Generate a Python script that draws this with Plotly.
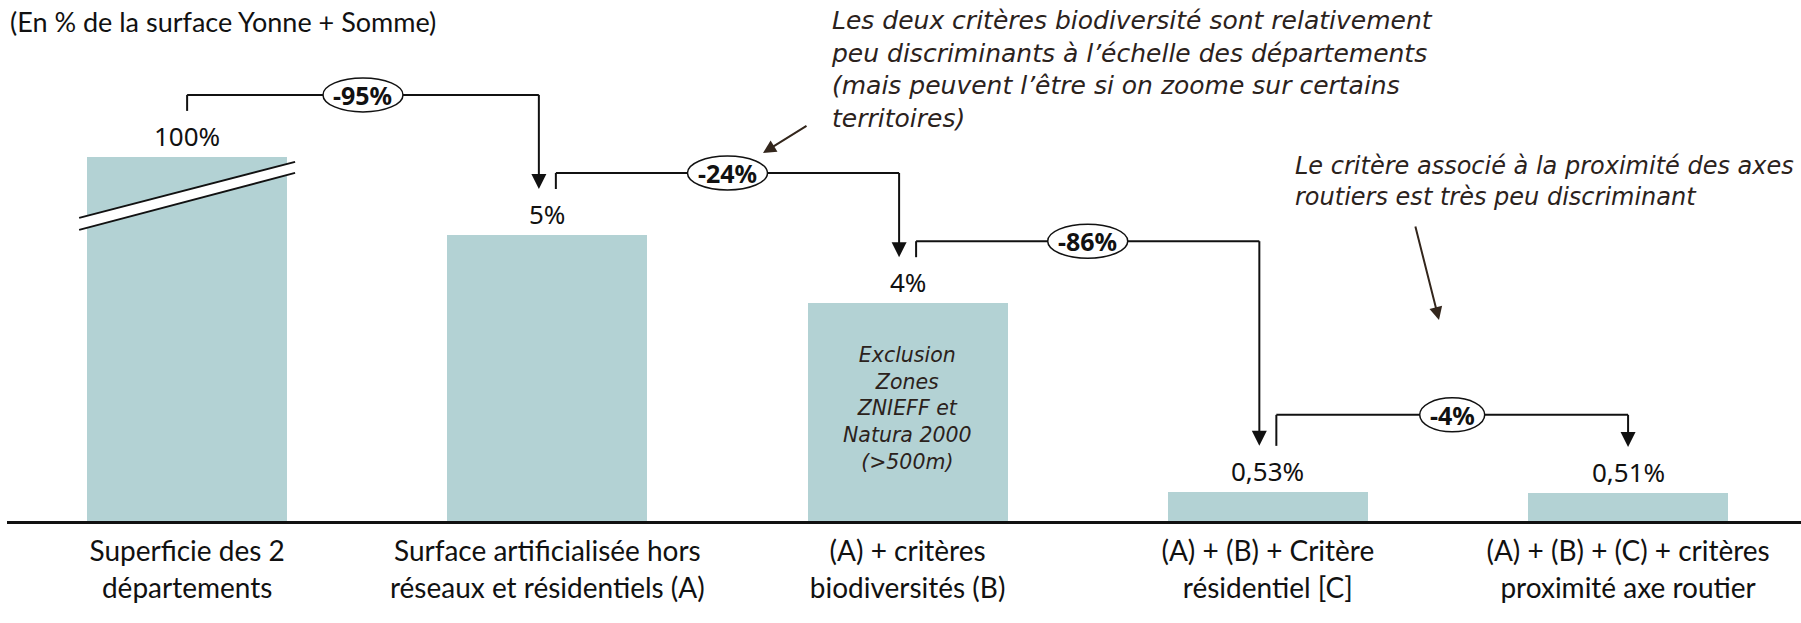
import plotly.graph_objects as go

# ---------------- data ----------------
categories = [
    "Superficie des 2<br>départements",
    "Surface artificialisée hors<br>réseaux et résidentiels (A)",
    "(A) + critères<br>biodiversités (B)",
    "(A) + (B) + Critère<br>résidentiel [C]",
    "(A) + (B) + (C) + critères<br>proximité axe routier",
]
values = [100, 5.2, 3.96, 0.53, 0.51]          # % of the two departments' area
value_labels = ["100%", "5%", "4%", "0,53%", "0,51%"]
step_labels = ["-95%", "-24%", "-86%", "-4%"]
bar3_note_lines = ["Exclusion", "Zones", "ZNIEFF et", "Natura 2000", "(>500m)"]
subtitle = "(En % de la surface Yonne + Somme)"
note_bio_lines = [
    "Les deux critères biodiversité sont relativement",
    "peu discriminants à l’échelle des départements",
    "(mais peuvent l’être si on zoome sur certains",
    "territoires)",
]
note_road_lines = [
    "Le critère associé à la proximité des axes",
    "routiers est très peu discriminant",
]

# ---------------- layout constants ----------------
W, H = 1801, 623
ML, MR, MT, MB = 7, 0, 0, 102
XR = [-0.5, 4.48]
PW = W - ML - MR
PH = H - MT - MB
PXX = PW / (XR[1] - XR[0])      # px per x unit
PXY = 55.0                      # px per y unit (%)
YMAX = PH / PXY
BREAK_CAP = 6.62                # displayed height of the broken first bar
BAR_W = 0.555

BAR_COLOR = "#b3d2d4"
INK = "#111111"
NOTE_INK = "#2b221c"
ARROW_INK = "#33261c"
FONT_CAT = "Lato, Carlito, sans-serif"
FONT_MAIN = "Noto Sans, Open Sans, sans-serif"
FONT_NOTE = "DejaVu Sans, Noto Sans, sans-serif"

display = [min(v, BREAK_CAP) for v in values]
n = len(values)


def px_x(p):  # page pixel -> paper x
    return (p - ML) / PW


def px_y(p):  # page pixel -> paper y
    return (H - MB - p) / PH


fig = go.Figure()
fig.add_trace(go.Bar(
    x=list(range(n)), y=display, width=BAR_W,
    marker=dict(color=BAR_COLOR, line=dict(width=0)),
    hoverinfo="skip", showlegend=False,
))

shapes = []
annotations = []

# value labels above bars
for i in range(n):
    annotations.append(dict(
        x=i, y=display[i], xref="x", yref="y", text=value_labels[i],
        showarrow=False, yanchor="middle", yshift=21,
        font=dict(family=FONT_MAIN, size=26, color=INK),
    ))

# broken-bar marker on the first bar
top = display[0]
half = BAR_W / 2 + 8 / PXX
upL, upR = top - 61 / PXY, top - 5 / PXY
loL, loR = top - 73 / PXY, top - 16 / PXY
shapes.append(dict(
    type="path", xref="x", yref="y",
    path=f"M {-half},{upL} L {half},{upR} L {half},{loR} L {-half},{loL} Z",
    fillcolor="white", line=dict(width=0), layer="above",
))
for (yl, yr) in [(upL, upR), (loL, loR)]:
    shapes.append(dict(type="line", xref="x", yref="y", x0=-half, y0=yl, x1=half, y1=yr,
                       line=dict(color=INK, width=2), layer="above"))

# step connectors
OFF = 8.5 / PXX
HEAD_W = 7.5 / PXX
HEAD_H = 15 / PXY
level_px = [62, 62, 62, 77]
for i in range(n - 1):
    h0, h1 = display[i], display[i + 1]
    xs = i + (0 if i == 0 else OFF)
    xe = i + 1 - (0 if i == n - 2 else OFF)
    y0 = h0 + 46 / PXY
    yl = h0 + level_px[i] / PXY
    ytip = h1 + 46 / PXY
    ln = dict(color=INK, width=2)
    shapes.append(dict(type="line", xref="x", yref="y", x0=xs, y0=y0, x1=xs, y1=yl, line=ln))
    shapes.append(dict(type="line", xref="x", yref="y", x0=xs, y0=yl, x1=xe, y1=yl, line=ln))
    shapes.append(dict(type="line", xref="x", yref="y", x0=xe, y0=yl, x1=xe, y1=ytip + HEAD_H * 0.8, line=ln))
    shapes.append(dict(
        type="path", xref="x", yref="y",
        path=f"M {xe - HEAD_W},{ytip + HEAD_H} L {xe + HEAD_W},{ytip + HEAD_H} L {xe},{ytip} Z",
        fillcolor=INK, line=dict(width=0),
    ))
    xm = (xs + xe) / 2
    ew = 20 + 15 * len(step_labels[i])
    shapes.append(dict(
        type="circle", xref="x", yref="y", xsizemode="pixel", ysizemode="pixel",
        xanchor=xm, yanchor=yl, x0=-ew / 2, x1=ew / 2, y0=-17, y1=17,
        fillcolor="white", line=dict(color=INK, width=1.5),
    ))
    annotations.append(dict(
        x=xm, y=yl, xref="x", yref="y", text=f"<b>{step_labels[i]}</b>",
        showarrow=False, yanchor="middle", xanchor="center",
        font=dict(family=FONT_MAIN, size=25, color=INK),
    ))

# note inside bar 3
annotations.append(dict(
    x=2, y=display[2] / 2, xref="x", yref="y",
    text="<i>" + "<br>".join(bar3_note_lines) + "</i>",
    showarrow=False, yanchor="middle", yshift=4, align="center",
    font=dict(family=FONT_NOTE, size=20.5, color=NOTE_INK),
))

# subtitle
annotations.append(dict(
    x=px_x(8), y=px_y(22), xref="paper", yref="paper", text=subtitle,
    showarrow=False, xanchor="left", yanchor="middle",
    font=dict(family=FONT_CAT, size=27, color=INK),
))

# commentary notes
annotations.append(dict(
    x=px_x(829), y=px_y(21 + 32.5 * 1.5), xref="paper", yref="paper",
    text="<i>" + "<br>".join(note_bio_lines) + "</i>",
    showarrow=False, xanchor="left", yanchor="middle", align="left",
    font=dict(family=FONT_NOTE, size=25, color=NOTE_INK),
))
annotations.append(dict(
    x=px_x(1796), y=px_y(166 + 31 * 0.5), xref="paper", yref="paper",
    text="<i>" + "<br>".join(note_road_lines) + "</i>",
    showarrow=False, xanchor="right", yanchor="middle", align="left",
    font=dict(family=FONT_NOTE, size=24, color=NOTE_INK),
))

# pointer arrows
for (tip, tail) in [((763, 153), (808, 125)), ((1439, 320), (1415, 225))]:
    annotations.append(dict(
        x=px_x(tip[0]), y=px_y(tip[1]), xref="paper", yref="paper",
        ax=tail[0] - tip[0], ay=tail[1] - tip[1], text="",
        showarrow=True, arrowhead=2, arrowsize=1.3, arrowwidth=2, arrowcolor=ARROW_INK,
    ))

fig.update_layout(
    width=W, height=H, autosize=False,
    margin=dict(l=ML, r=MR, t=MT, b=MB, pad=0),
    paper_bgcolor="white", plot_bgcolor="white",
    shapes=shapes, annotations=annotations,
    showlegend=False, bargap=0,
    xaxis=dict(
        range=XR, tickmode="array", tickvals=list(range(n)), ticktext=categories,
        showline=True, linecolor=INK, linewidth=2.5, showgrid=False, zeroline=False,
        ticks="", ticklabelstandoff=4,
        tickfont=dict(family=FONT_CAT, size=28, color=INK), fixedrange=True,
    ),
    yaxis=dict(range=[0, YMAX], visible=False, fixedrange=True),
)

fig.write_html(
    "out.html",
    config={"displayModeBar": False},
    post_script="document.body.style.margin='0';document.body.style.overflow='hidden';",
)
